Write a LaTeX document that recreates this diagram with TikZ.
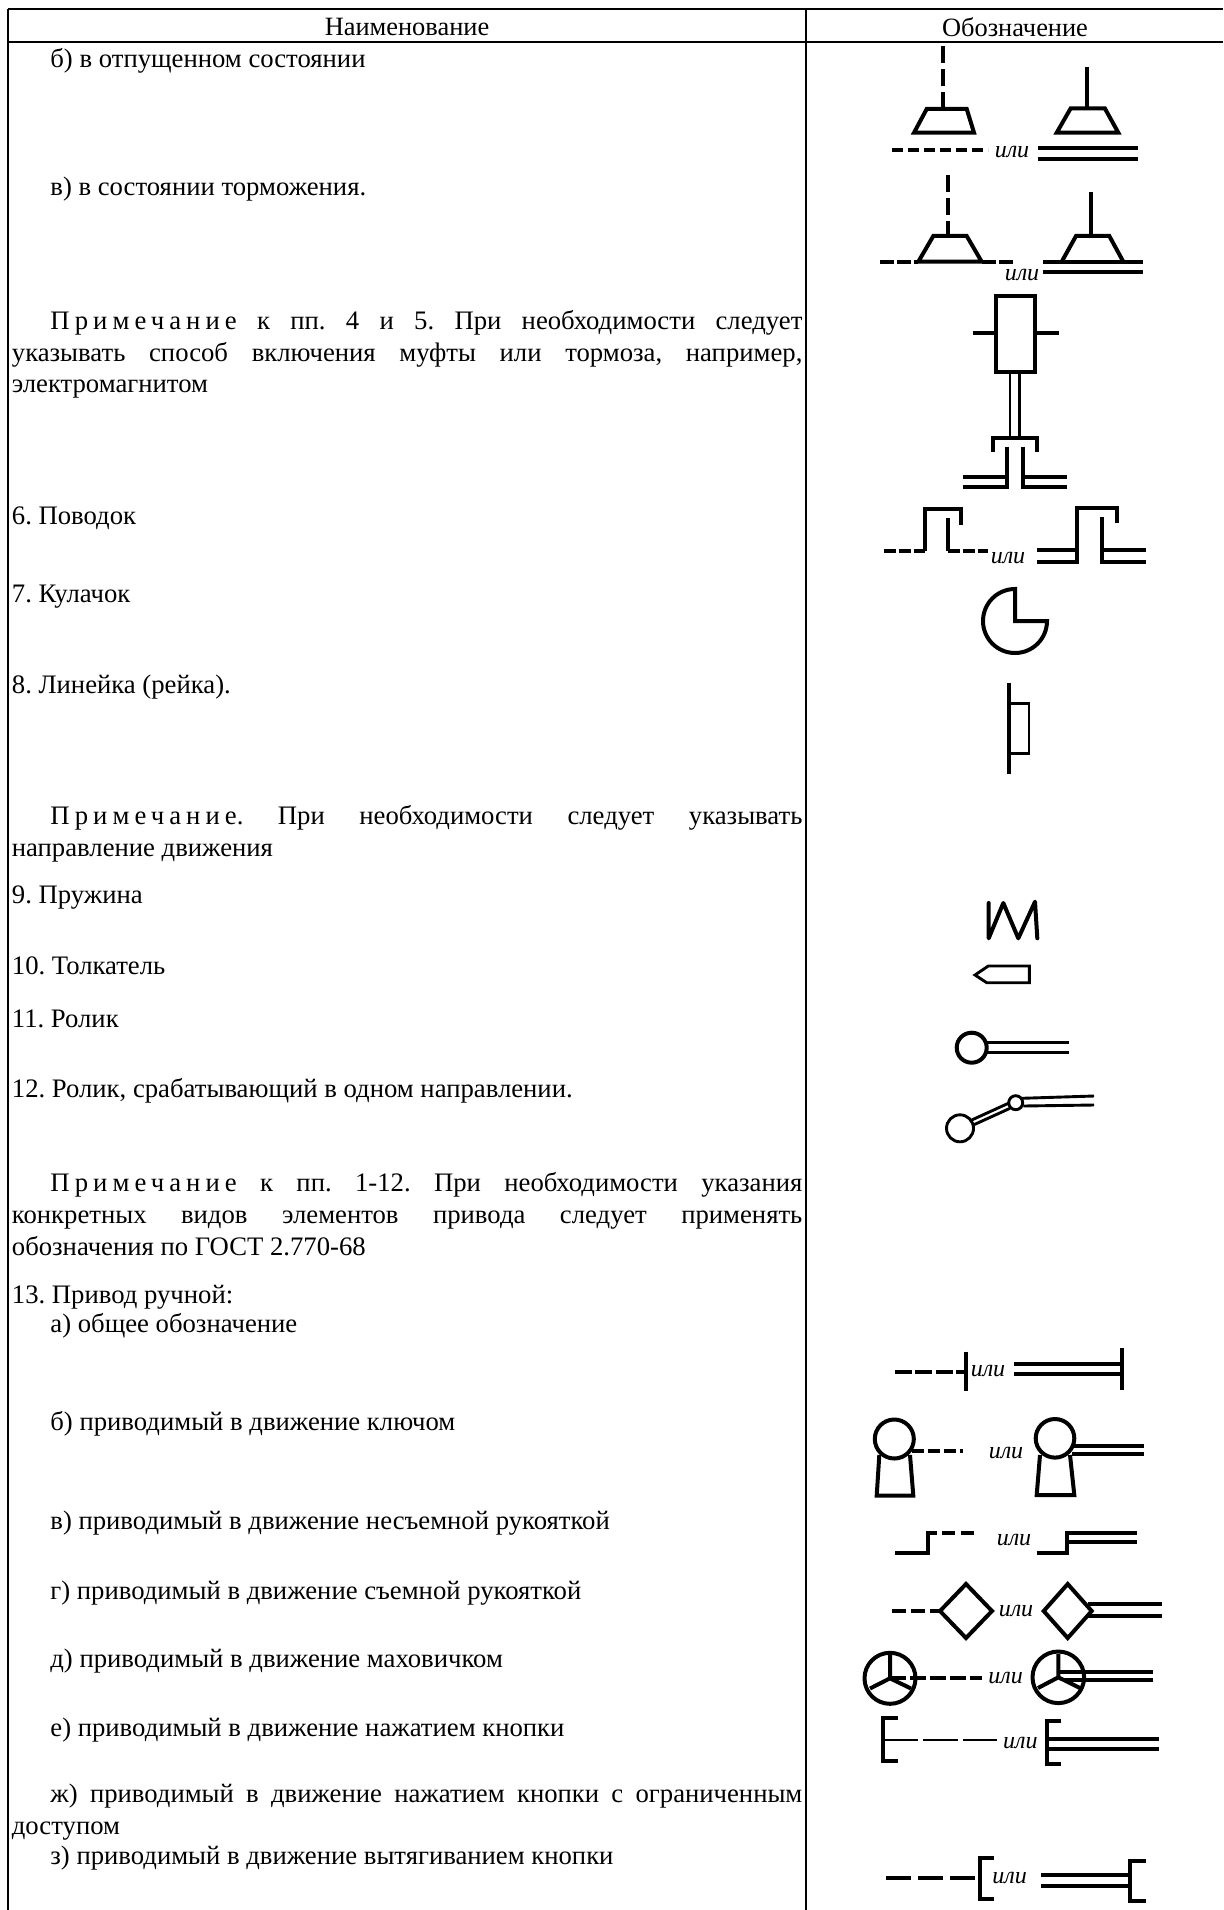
\documentclass[tikz,border=0pt]{standalone}
\usepackage{fontspec}
\setmainfont{Liberation Serif}
\frenchspacing
\newcommand{\txtsize}{\fontsize{13.35}{15.85}\selectfont}
\newcommand{\headsize}{\fontsize{13.2}{15.85}\selectfont}
\newcommand{\indnt}{\hspace*{19.25pt}}
\newcommand{\spaced}[1]{{\addfontfeature{LetterSpace=19}#1}}
\tikzset{
  tbl/.style={line width=1pt},
  symb/.style={line width=2pt},
  symbthin/.style={line width=1.45pt},
  dsh/.style={dash pattern=on 8.5pt off 3pt},
  ili/.style={font=\fontsize{12}{14}\selectfont\itshape,inner sep=0pt},
  txt/.style={anchor=north west,inner sep=0pt,text width=395.25pt,align=justify,font=\txtsize,execute at begin node=\strut},
  head/.style={inner sep=0pt,font=\headsize}
}
\begin{document}
\begin{tikzpicture}[x=0.5pt,y=-0.5pt]
\useasboundingbox (0,0) rectangle (1223,1910);
%% Table frame
\draw[tbl,line width=1.4pt] (8,9) -- (1223,9);
\draw[tbl,line width=1.2pt] (8,42) -- (1223,42);
\draw[tbl] (8,9) -- (8,1910);
\draw[tbl] (806,9) -- (806,1910);
\node[head] (name) at (407,27) {Наименование};
\node[head] (sign) at (1015,27) {Обозначение};
%% Left column
\node[txt] (b) at (11.5,45) {\indnt б) в отпущенном состоянии};
\node[txt] (v) at (11.5,173) {\indnt в) в состоянии торможения.};
\node[txt] (note1) at (11.5,307) {\indnt\spaced{Примечание} к пп. 4 и 5. При необходимости следует\linebreak указывать способ включения муфты или тормоза, например,\linebreak электромагнитом};
\node[txt] (n6) at (11.5,502) {6. Поводок};
\node[txt] (n7) at (11.5,580) {7. Кулачок};
\node[txt] (n8) at (11.5,671) {8. Линейка (рейка).};
\node[txt] (note2) at (11.5,802) {\indnt\spaced{Примечание}. При необходимости следует указывать\linebreak направление движения};
\node[txt] (n9) at (11.5,881) {9. Пружина};
\node[txt] (n10) at (11.5,952) {10. Толкатель};
\node[txt] (n11) at (11.5,1005) {11. Ролик};
\node[txt] (n12) at (11.5,1075) {12. Ролик, срабатывающий в одном направлении.};
\node[txt] (note3) at (11.5,1169) {\indnt\spaced{Примечание} к пп. 1-12. При необходимости указания\linebreak конкретных видов элементов привода следует применять\linebreak обозначения по ГОСТ 2.770-68};
\node[txt] (n13) at (11.5,1281) {13. Привод ручной:};
\node[txt] (r1) at (11.5,1310) {\indnt а) общее обозначение};
\node[txt] (r2) at (11.5,1408) {\indnt б) приводимый в движение ключом};
\node[txt] (r3) at (11.5,1507) {\indnt в) приводимый в движение несъемной рукояткой};
\node[txt] (r4) at (11.5,1577) {\indnt г) приводимый в движение съемной рукояткой};
\node[txt] (r5) at (11.5,1645) {\indnt д) приводимый в движение маховичком};
\node[txt] (r6) at (11.5,1714) {\indnt е) приводимый в движение нажатием кнопки};
\node[txt] (r7) at (11.5,1780) {\indnt ж) приводимый в движение нажатием кнопки с ограниченным\linebreak доступом};
\node[txt] (r8) at (11.5,1842) {\indnt з) приводимый в движение вытягиванием кнопки};
%% Brake, released
\draw[symb,dsh] (942.7,46) -- (942.7,109);
\draw[symb] (914,132.7) -- (926.7,109) -- (966.7,109) -- (974,132.7) -- cycle;
\draw[symb,dash pattern=on 5.5pt off 2.5pt] (892,150) -- (988,150);
\node[ili] (ili1) at (1012,152) {или};
\draw[symb] (1086.7,67) -- (1086.7,108);
\draw[symb] (1056.7,132.7) -- (1070.7,108.3) -- (1104.8,108.3) -- (1118.3,132.7) -- cycle;
\draw[symb] (1037.7,148) -- (1138.3,148) (1037.7,159) -- (1138.3,159);
%% Brake, applied
\draw[symb,dsh] (948.3,175) -- (948.3,236);
\draw[symb] (918.3,261.7) -- (933.3,236) -- (966.7,236) -- (981.7,261.7) -- cycle;
\draw[symb,dash pattern=on 7pt off 1.5pt] (880,262) -- (918,262) (982,262) -- (1015.7,262);
\node[ili] (ili2) at (1022,275) {или};
\draw[symb] (1091,192) -- (1091,236);
\draw[symb] (1061.7,261.7) -- (1076,236) -- (1109.3,236) -- (1123.3,261.7);
\draw[symb] (1043,261.7) -- (1142.7,261.7) (1043,271.7) -- (1142.7,271.7);
%% Electromagnet clutch
\draw[symb] (996,296) rectangle (1035,371.7);
\draw[symb] (972.7,333.3) -- (996,333.3) (1035,333.3) -- (1059,333.3);
\draw[symbthin] (1010,371.7) -- (1010,438) (1019.3,371.7) -- (1019.3,438);
\draw[symb] (992.7,451.7) -- (992.7,438.3) -- (1036.7,438.3) -- (1036.7,451.7);
\draw[symb] (1007.3,446.7) -- (1007.3,486.7) -- (963.3,486.7) (1007.3,476.7) -- (963.3,476.7);
\draw[symb] (1023.3,446.7) -- (1023.3,486.7) -- (1067.3,486.7) (1023.3,476.7) -- (1067.3,476.7);
%% Driver
\draw[symb,dash pattern=on 6pt off 1.5pt] (884.3,551) -- (925,551);
\draw[symb] (925,551) -- (925,509.3) -- (960.7,509.3) -- (960.7,525);
\draw[symb] (948.3,518.3) -- (948.3,551);
\draw[symb,dash pattern=on 6pt off 1.5pt] (948.3,551) -- (988.3,551);
\node[ili] (ili3) at (1008,558) {или};
\draw[symb] (1037.3,561.7) -- (1077.3,561.7) -- (1077.3,507.7) -- (1116.7,507.7) -- (1116.7,523.3);
\draw[symb] (1037.3,550) -- (1077.3,550);
\draw[symb] (1101.7,517.3) -- (1101.7,561.7) -- (1146,561.7) (1101.7,550) -- (1146,550);
%% Cam
\draw[symb] (1015,621) -- (1015,589) arc[start angle=270,end angle=0,radius=32] -- cycle;
%% Rack
\draw[symb] (1009,683.3) -- (1009,774);
\draw[symbthin] (1009,703.3) -- (1029,703.3) -- (1029,753.3) -- (1009,753.3);
%% Spring
\draw[symb,line join=round,line cap=round] (988.7,903) -- (988.7,938.3) -- (1003.3,903) -- (1018.3,938.3) -- (1035,901.7) -- (1037.3,938.3);
%% Pusher
\draw[symbthin] (1029.3,966) -- (988.3,966) -- (975,975) -- (986.7,982.7) -- (1029.3,982.7) -- cycle;
%% Roller
\draw[symb] (971.7,1047.7) circle (15);
\draw[symbthin] (985.5,1042.7) -- (1069.3,1042.7) (985.5,1052.3) -- (1069.3,1052.3);
%% One-way roller
\draw[symbthin] (960,1128.3) circle (13.5);
\draw[symbthin] (1015.7,1102.7) circle (7);
\draw[symbthin] (971.7,1120) -- (1008.3,1103.3) (973.3,1125) -- (1010,1108.3);
\draw[symbthin] (1021.7,1098.3) -- (1094,1096) (1023.3,1106) -- (1094,1105);
%% Manual drive, general
\draw[symb,dash pattern=on 8.5pt off 1.7pt] (895,1371.7) -- (966,1371.7);
\draw[symb] (966,1351.7) -- (966,1391);
\node[ili] (ili4) at (988,1371) {или};
\draw[symb] (1014,1364.3) -- (1121.7,1364.3) (1014,1374.3) -- (1121.7,1374.3);
\draw[symb] (1121.7,1348) -- (1121.7,1390);
%% Key
\draw[symb] (894.3,1439) circle (19.5);
\draw[symb] (879.3,1455) -- (876.7,1495.7) -- (913.3,1495.7) -- (910,1455);
\draw[symb,dash pattern=on 6pt off 2pt] (911.7,1450.7) -- (963.3,1450.7);
\node[ili] (ili5) at (1006,1453) {или};
\draw[symb] (1055,1438.3) circle (19.3);
\draw[symb] (1040,1455) -- (1036.7,1495) -- (1074.3,1495) -- (1070,1455);
\draw[symb] (1072.3,1445.7) -- (1144,1445.7) (1072.3,1454) -- (1144,1454);
%% Fixed handle
\draw[symb] (895,1552.7) -- (928.3,1552.7) -- (928.3,1532.7) -- (937,1532.7);
\draw[symb,dash pattern=on 6.5pt off 3pt] (942,1532.7) -- (977.3,1532.7);
\node[ili] (ili6) at (1014,1540) {или};
\draw[symb] (1036.7,1552.7) -- (1067,1552.7) -- (1067,1533) -- (1137.3,1533) (1067,1542.3) -- (1137.3,1542.3);
%% Removable handle
\draw[symb,dash pattern=on 7pt off 2.5pt] (891.7,1611) -- (940,1611);
\draw[symb] (940,1611) -- (966,1584) -- (992,1611) -- (966,1638) -- cycle;
\node[ili] (ili7) at (1016,1611) {или};
\draw[symb] (1043.7,1611) -- (1067.7,1584) -- (1091.7,1611) -- (1067.7,1638) -- cycle;
\draw[symb] (1088,1604.3) -- (1162.3,1604.3) (1088,1615.7) -- (1162.3,1615.7);
%% Handwheel
\draw[symb] (890,1678.3) circle (25.5);
\draw[symb] (890,1655) -- (890,1678.3) -- (870,1688.5) (890,1678.3) -- (911,1688.5);
\draw[symb,dash pattern=on 8pt off 2pt] (890,1678.3) -- (981.7,1678.3);
\node[ili] (ili8) at (1005.7,1678) {или};
\draw[symb] (1058.3,1677.3) circle (25.8);
\draw[symb] (1058.3,1654) -- (1058.3,1677.3) -- (1038,1688) (1058.3,1677.3) -- (1080,1688);
\draw[symb] (1060,1671.7) -- (1153.3,1671.7) (1063,1680) -- (1153.3,1680);
%% Push button
\draw[symb] (898.3,1718.3) -- (883.3,1718.3) -- (883.3,1761) -- (898.3,1761);
\draw[symbthin,dash pattern=on 17.5pt off 2.5pt] (883.3,1740) -- (996.7,1740);
\node[ili] (ili9) at (1020.3,1743) {или};
\draw[symb] (1061,1720.7) -- (1046.7,1720.7) -- (1046.7,1764) -- (1061,1764);
\draw[symb] (1046.7,1739) -- (1159.3,1739) (1046.7,1749) -- (1159.3,1749);
%% Pull button
\draw[symb,dash pattern=on 12.5pt off 3.5pt] (886,1878.3) -- (980,1878.3);
\draw[symb] (994,1857.7) -- (980,1857.7) -- (980,1899.3) -- (994,1899.3);
\node[ili] (ili10) at (1009.7,1878) {или};
\draw[symb] (1041,1875) -- (1130,1875) (1041,1885.7) -- (1130,1885.7);
\draw[symb] (1145.7,1860.7) -- (1130,1860.7) -- (1130,1900.7) -- (1145.7,1900.7);
\end{tikzpicture}
\end{document}
